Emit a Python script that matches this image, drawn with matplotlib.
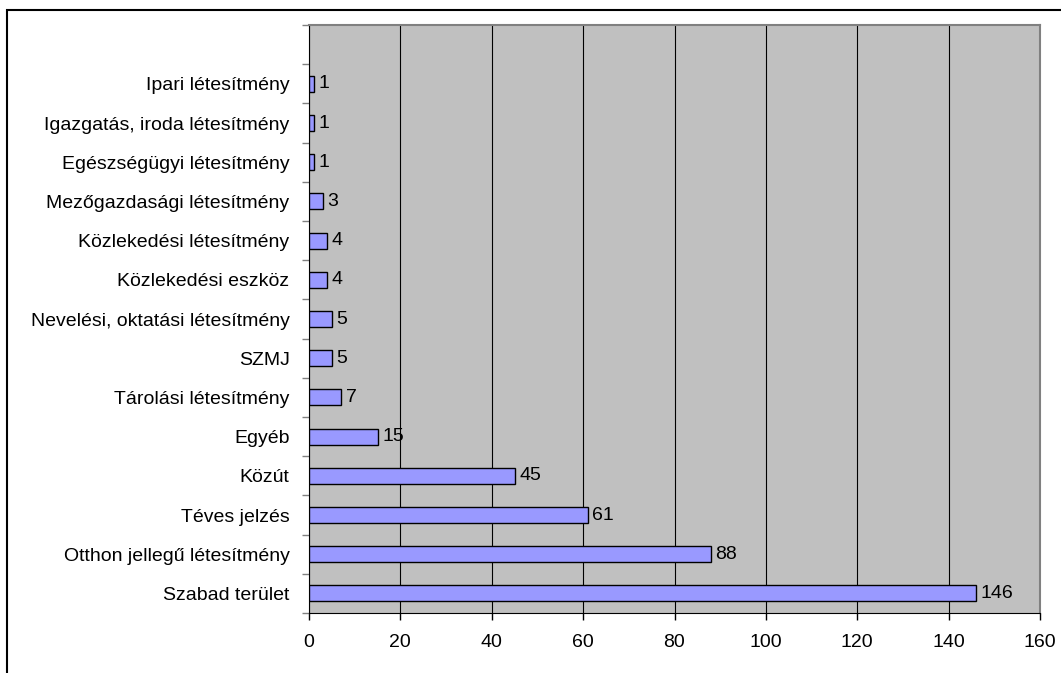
import matplotlib
matplotlib.use("Agg")
import matplotlib.pyplot as plt
from matplotlib.patches import Rectangle
from matplotlib.ticker import MultipleLocator

categories = ["Szabad terület", "Otthon jellegű létesítmény", "Téves jelzés", "Közút",
              "Egyéb", "Tárolási létesítmény", "SZMJ", "Nevelési, oktatási létesítmény",
              "Közlekedési eszköz", "Közlekedési létesítmény", "Mezőgazdasági létesítmény",
              "Egészségügyi létesítmény", "Igazgatás, iroda létesítmény", "Ipari létesítmény"]
values = [146, 88, 61, 45, 15, 7, 5, 5, 4, 4, 3, 1, 1, 1]
xticks = [0, 20, 40, 60, 80, 100, 120, 140, 160]

plt.rcParams['font.family'] = ['Liberation Sans', 'DejaVu Sans']
fs = 14

fig = plt.figure(figsize=(10.61, 6.73), dpi=100)
fig.patches.append(Rectangle((7/1061, -0.1), 1.2, (673-10)/673 + 0.1, transform=fig.transFigure,
                             fill=False, edgecolor='black', linewidth=1.5))
ax = fig.add_axes([309/1061, 60/673, 731/1061, 588/673])
ax.set_facecolor('#C0C0C0')
ypos = list(range(len(categories)))
ax.barh(ypos, values, height=0.41, color='#9999FF', edgecolor='black', linewidth=1.0, zorder=3)
for y, v in zip(ypos, values):
    ax.text(v + 1.0, y, str(v), va='center', ha='left', fontsize=fs, zorder=4)

ax.set_xlim(0, 160)
ax.set_ylim(-0.5, 14.5)
ax.set_xticks(xticks)
ax.set_xticklabels([str(t) for t in xticks], fontsize=fs)
ax.set_yticks(ypos)
ax.set_yticklabels(categories, fontsize=fs)
ax.tick_params(axis='y', which='major', length=0, pad=14)
ax.yaxis.set_minor_locator(MultipleLocator(1, offset=0.5))
ax.tick_params(axis='y', which='minor', length=5, direction='out', width=1, color='#808080')
ax.tick_params(axis='x', length=5, direction='out', width=1, pad=10, color='black')
ax.grid(axis='x', color='black', linewidth=0.8, zorder=1)
ax.set_axisbelow(True)
for s in ['top', 'right']:
    ax.spines[s].set_color('#808080')
    ax.spines[s].set_linewidth(1.5)
ax.spines['left'].set_color('black')
ax.spines['bottom'].set_color('black')

fig.savefig('out.png', dpi=100)
